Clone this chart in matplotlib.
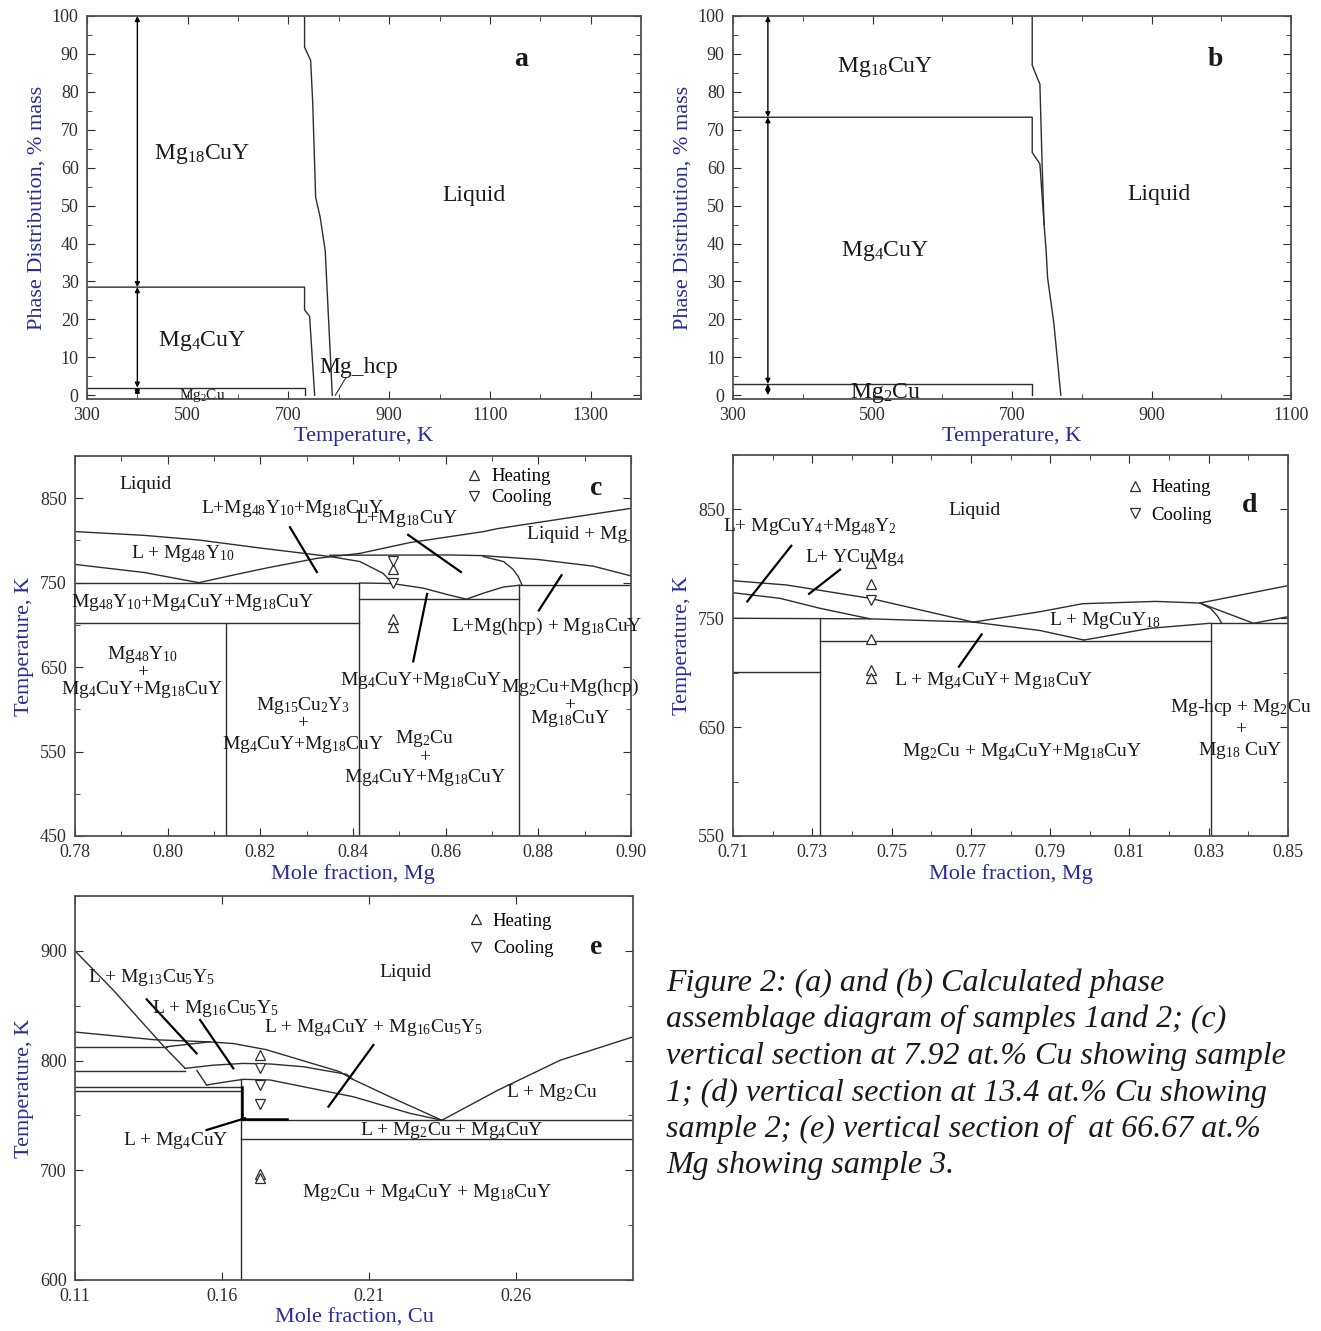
import numpy as np
import matplotlib.pyplot as plt
from matplotlib.lines import Line2D
from matplotlib.ticker import FixedLocator, FormatStrFormatter

plt.rcParams['font.family'] = ['Liberation Serif', 'DejaVu Serif']
plt.rcParams['mathtext.fontset'] = 'custom'
plt.rcParams['mathtext.rm'] = 'Liberation Serif'
plt.rcParams['mathtext.it'] = 'Liberation Serif:italic'
plt.rcParams['mathtext.bf'] = 'Liberation Serif:bold'

INK = '#2e2e2e'
BLUE = '#2a2a9c'

# ---------------- (a) phase distribution of sample 1 ----------------
a_xticks = [300, 500, 700, 900, 1100, 1300]
a_yticks = list(range(0, 101, 10))
a_levels = [0, 2, 28.5, 100]          # arrow marks at T = 400 K
a_arrow_t = 400
a_mg4_t = [300, 732, 732, 742, 752]
a_mg4_p = [28.5, 28.5, 22.5, 20.8, 0]
a_mg2_t = [300, 732, 732]
a_mg2_p = [2, 2, 0]
a_liq_t = [732, 732, 744, 748, 754, 763, 773, 787]
a_liq_p = [100, 91.8, 88.3, 77.7, 52.2, 46.9, 38.1, 0]

# ---------------- (b) phase distribution of sample 2 ----------------
b_xticks = [300, 500, 700, 900, 1100]
b_yticks = list(range(0, 101, 10))
b_levels = [0, 3, 73.3, 100]
b_arrow_t = 350
b_mg4_t = [300, 729, 729, 740, 746]
b_mg4_p = [73.3, 73.3, 64, 61, 45]
b_mg2_t = [300, 729, 729]
b_mg2_p = [3, 3, 0]
b_liq_t = [729, 729, 740, 743, 746, 749, 751, 760, 770]
b_liq_p = [100, 87, 82, 62, 45, 38, 31, 19, 0]

# ---------------- (c) section at 7.92 at.% Cu ----------------
c_xticks = [0.78, 0.80, 0.82, 0.84, 0.86, 0.88, 0.90]
c_yticks = [450, 550, 650, 750, 850]
c_curve_1 = [(0.78, 810.5), (0.795, 806), (0.8067, 800.5), (0.82, 791), (0.835, 781),
             (0.8415, 775), (0.8465, 761), (0.8484, 750)]
c_curve_2 = [(0.78, 771.6), (0.795, 762), (0.8067, 750), (0.815, 760), (0.8219, 768),
             (0.8322, 778.8), (0.8415, 784.7), (0.8523, 797.5), (0.8681, 810.4),
             (0.8712, 814), (0.90, 838)]
c_curve_3 = [(0.835, 782.5), (0.861, 782.8), (0.868, 782), (0.88, 777.4),
             (0.8918, 769.6), (0.90, 758)]
c_curve_4 = [(0.8681, 781), (0.8725, 775), (0.8745, 766), (0.8757, 757), (0.8765, 747)]
c_curve_5 = [(0.8415, 749.6), (0.8484, 749), (0.8551, 743.6), (0.861, 735), (0.8645, 730.5),
             (0.8681, 737.5), (0.8724, 744.8), (0.876, 747)]
c_hlines = [(0.78, 0.8414, 750), (0.78, 0.8414, 702), (0.8414, 0.8758, 730.7), (0.8758, 0.90, 747)]
c_vlines = [(0.8125, 450, 702), (0.8414, 450, 750), (0.8758, 450, 747)]
c_leaders = [((0.8264, 815.6), (0.8322, 762.6)), ((0.8519, 806.6), (0.8633, 762.6)),
             ((0.885, 758.8), (0.8801, 717)), ((0.856, 736.6), (0.853, 656.8))]
c_sample_x = 0.8486
c_heating = [766, 707, 697]
c_cooling = [776, 750]

# ---------------- (d) section at 13.4 at.% Cu ----------------
d_xticks = [0.71, 0.73, 0.75, 0.77, 0.79, 0.81, 0.83, 0.85]
d_yticks = [550, 650, 750, 850]
d_curve_1 = [(0.71, 784.5), (0.7235, 780.6), (0.7446, 768.3), (0.7706, 746.5),
             (0.7874, 738.8), (0.7985, 730)]
d_curve_2 = [(0.71, 773.5), (0.7219, 768.3), (0.7319, 759.2), (0.7446, 749.5)]
d_curve_3 = [(0.71, 750), (0.7446, 749.5), (0.7706, 746.5), (0.7874, 756), (0.7982, 763.4),
             (0.8166, 765.5), (0.8278, 764), (0.85, 780)]
d_curve_4 = [(0.7985, 730), (0.8026, 732.6), (0.8152, 740.8), (0.8303, 745.4)]
d_curve_5 = [(0.8278, 764), (0.8413, 745.4), (0.85, 751.5)]
d_curve_6 = [(0.8278, 764), (0.8305, 759), (0.8322, 752), (0.8333, 745.4)]
d_hlines = [(0.8306, 0.85, 745.4), (0.7319, 0.8306, 729), (0.71, 0.7319, 701)]
d_vlines = [(0.7319, 550, 750), (0.8306, 550, 746)]
d_leaders = [((0.7247, 816.6), (0.7136, 765.5)), ((0.737, 794.7), (0.7292, 772.5)),
             ((0.7727, 735.1), (0.767, 705.6))]
d_sample_x = 0.7448
d_heating = [801, 781.6, 730.9, 702.6, 695]
d_cooling = [766.4]

# ---------------- (e) section at 66.67 at.% Mg ----------------
e_xticks = [0.11, 0.16, 0.21, 0.26]
e_yticks = [600, 700, 800, 900]
e_curve_1 = [(0.11, 900), (0.123, 864.3), (0.1401, 813.3), (0.1475, 792.9)]
e_curve_2 = [(0.1515, 791), (0.1548, 777.7)]
e_curve_3 = [(0.11, 826), (0.137, 819), (0.156, 817), (0.164, 815.5), (0.175, 810),
             (0.19, 798), (0.2, 790), (0.2045, 783), (0.2186, 765.3), (0.2349, 745.6)]
e_curve_4 = [(0.1475, 792.9), (0.1571, 795.8), (0.1673, 797.4), (0.1764, 796.9),
             (0.1877, 794.4), (0.2025, 787.5), (0.2045, 783)]
e_curve_5 = [(0.1548, 777.7), (0.1617, 780.7), (0.1673, 782.9), (0.1764, 782.3),
             (0.1877, 776.2), (0.2048, 767), (0.2241, 751.9), (0.2349, 745.6)]
e_curve_6 = [(0.2349, 745.6), (0.254, 773), (0.2752, 800.3), (0.30, 821.6)]
e_curve_7 = [(0.1412, 812.6), (0.156, 817.1)]
e_hlines = [(0.11, 0.1412, 812.6), (0.11, 0.1475, 790.8), (0.11, 0.1665, 776.1),
            (0.11, 0.1665, 772.5), (0.1665, 0.30, 745.8), (0.1665, 0.30, 728.9)]
e_vlines = [(0.1665, 600, 782.9)]
e_leaders = [((0.1344, 855.8), (0.1514, 806.6)), ((0.1526, 837), (0.1639, 792.9)),
             ((0.2116, 814.2), (0.1963, 758)), ((0.1548, 736.7), (0.1679, 747.4))]
e_sample_x = 0.1731
e_heating = [804.9, 696.5, 693]
e_cooling = [793.6, 778.1, 760.8]

CAPTION = ("Figure 2: (a) and (b) Calculated phase\n"
           "assemblage diagram of samples 1and 2; (c)\n"
           "vertical section at 7.92 at.% Cu showing sample\n"
           "1; (d) vertical section at 13.4 at.% Cu showing\n"
           "sample 2; (e) vertical section of  at 66.67 at.%\n"
           "Mg showing sample 3.")


def style_axes(ax, xlim, ylim, xticks, yticks, xminor, yminor, xfmt, xlabel, ylabel, tsize=13):
    ax.set_xlim(*xlim)
    ax.set_ylim(*ylim)
    ax.xaxis.set_major_locator(FixedLocator(xticks))
    ax.yaxis.set_major_locator(FixedLocator(yticks))
    if xminor is not None:
        ax.xaxis.set_minor_locator(FixedLocator(xminor))
    if yminor is not None:
        ax.yaxis.set_minor_locator(FixedLocator(yminor))
    ax.xaxis.set_major_formatter(FormatStrFormatter(xfmt))
    ax.tick_params(which='both', direction='in', top=True, right=True, colors=INK,
                   labelsize=tsize, pad=6)
    ax.tick_params(which='major', length=6)
    ax.tick_params(which='minor', length=3.5)
    for sp in ax.spines.values():
        sp.set_color('#505050')
        sp.set_linewidth(1.3)
    ax.set_xlabel(xlabel, color=BLUE, fontsize=16, labelpad=2)
    ax.set_ylabel(ylabel, color=BLUE, fontsize=16, labelpad=4)


def curve(ax, pts, lw=1.0):
    xs, ys = zip(*pts)
    ax.plot(xs, ys, color=INK, lw=lw)


def lines(ax, hl, vl):
    for x0, x1, y in hl:
        ax.plot([x0, x1], [y, y], color=INK, lw=1.0)
    for x, y0, y1 in vl:
        ax.plot([x, x], [y0, y1], color=INK, lw=1.0)


def leaders(ax, ll):
    for (x0, y0), (x1, y1) in ll:
        ax.plot([x0, x1], [y0, y1], color='black', lw=1.6)


def arrows(ax, x, levels):
    for lo, hi in zip(levels[:-1], levels[1:]):
        ax.annotate('', xy=(x, hi), xytext=(x, lo),
                    arrowprops=dict(arrowstyle='<|-|>', color='black', lw=1.0,
                                    mutation_scale=7, shrinkA=0, shrinkB=0))


def samples(ax, x, heat, cool, bbox, rowsp):
    ax.plot([x] * len(heat), heat, ls='none', marker='^', ms=7, mfc='white', mec=INK, mew=0.9)
    ax.plot([x] * len(cool), cool, ls='none', marker='v', ms=7, mfc='white', mec=INK, mew=0.9)
    h1 = Line2D([], [], ls='none', marker='^', ms=7, mfc='white', mec=INK, mew=0.9)
    h2 = Line2D([], [], ls='none', marker='v', ms=7, mfc='white', mec=INK, mew=0.9)
    ax.legend([h1, h2], ['Heating', 'Cooling'], loc='upper left', bbox_to_anchor=bbox,
              frameon=False, fontsize=13.5, handlelength=0.8, handletextpad=0.5,
              labelspacing=rowsp, borderaxespad=0, borderpad=0)


def text(ax, x, y, s, size=14, **kw):
    ax.text(x, y, s, ha='center', va='center', fontsize=size, color='#1a1a1a', **kw)


fig = plt.figure(figsize=(13.21, 13.31), dpi=100)
W, H = 1321.0, 1331.0


def add_axes(left, top, right, bottom):
    return fig.add_axes([left / W, 1 - bottom / H, (right - left) / W, (bottom - top) / H])


# ---- (a)
ax = add_axes(87, 16, 641, 399)
style_axes(ax, (300, 1400), (-1, 100), a_xticks, a_yticks, list(range(300, 1401, 100)),
           list(range(0, 101, 5)), '%d', 'Temperature, K', 'Phase Distribution, % mass')
ax.plot(a_mg4_t, a_mg4_p, color=INK, lw=1.0)
ax.plot(a_mg2_t, a_mg2_p, color=INK, lw=1.0)
ax.plot(a_liq_t, a_liq_p, color=INK, lw=1.0)
ax.plot([793, 814], [0, 4.6], color=INK, lw=0.8)
arrows(ax, a_arrow_t, a_levels)
text(ax, 529, 63.6, 'Mg$_{18}$CuY', 17)
text(ax, 1068, 52.6, 'Liquid', 17)
text(ax, 529, 14.3, 'Mg$_{4}$CuY', 17)
text(ax, 839, 7.3, 'Mg_hcp', 17)
text(ax, 529, -0.2, 'Mg$_{2}$Cu', 11)
text(ax, 1162, 88.5, 'a', 20, fontweight='bold')

# ---- (b)
ax = add_axes(733, 16, 1291, 399)
style_axes(ax, (300, 1100), (-1, 100), b_xticks, b_yticks, list(range(300, 1101, 100)),
           list(range(0, 101, 5)), '%d', 'Temperature, K', 'Phase Distribution, % mass')
ax.plot(b_mg4_t, b_mg4_p, color=INK, lw=1.0)
ax.plot(b_mg2_t, b_mg2_p, color=INK, lw=1.0)
ax.plot(b_liq_t, b_liq_p, color=INK, lw=1.0)
arrows(ax, b_arrow_t, b_levels)
text(ax, 518, 86.6, 'Mg$_{18}$CuY', 17)
text(ax, 518, 38, 'Mg$_{4}$CuY', 17)
text(ax, 911, 53, 'Liquid', 17)
text(ax, 518, 0.6, 'Mg$_{2}$Cu', 17)
text(ax, 991, 88.6, 'b', 20, fontweight='bold')

# ---- (c)
ax = add_axes(75, 456, 631, 836)
style_axes(ax, (0.78, 0.90), (450, 900), c_xticks, c_yticks, list(np.arange(0.78, 0.905, 0.01)),
           list(range(450, 901, 50)), '%.2f', 'Mole fraction, Mg', 'Temperature, K')
for pts in [c_curve_1, c_curve_2, c_curve_3, c_curve_4, c_curve_5]:
    curve(ax, pts)
lines(ax, c_hlines, c_vlines)
leaders(ax, c_leaders)
samples(ax, c_sample_x, c_heating, c_cooling, (0.705, 0.968), 0.2)
text(ax, 0.7953, 866.8, 'Liquid')
text(ax, 0.827, 838.4, 'L+Mg$_{48}$Y$_{10}$+Mg$_{18}$CuY')
text(ax, 0.8514, 825.4, 'L+Mg$_{18}$CuY')
text(ax, 0.8884, 807.6, 'Liquid + Mg')
text(ax, 0.8033, 784, 'L + Mg$_{48}$Y$_{10}$')
text(ax, 0.8053, 727, 'Mg$_{48}$Y$_{10}$+Mg$_{4}$CuY+Mg$_{18}$CuY')
text(ax, 0.8819, 698.7, 'L+Mg(hcp) + Mg$_{18}$CuY')
text(ax, 0.7945, 665.5, 'Mg$_{48}$Y$_{10}$')
text(ax, 0.7945, 644, '+')
text(ax, 0.7945, 622.9, 'Mg$_{4}$CuY+Mg$_{18}$CuY')
text(ax, 0.8292, 605, 'Mg$_{15}$Cu$_{2}$Y$_{3}$')
text(ax, 0.8292, 582.6, '+')
text(ax, 0.8292, 557.8, 'Mg$_{4}$CuY+Mg$_{18}$CuY')
text(ax, 0.8547, 633.6, 'Mg$_{4}$CuY+Mg$_{18}$CuY')
text(ax, 0.8868, 626.5, 'Mg$_{2}$Cu+Mg(hcp)')
text(ax, 0.8868, 604, '+')
text(ax, 0.8868, 588.6, 'Mg$_{18}$CuY')
text(ax, 0.8555, 566, 'Mg$_{2}$Cu')
text(ax, 0.8555, 542.4, '+')
text(ax, 0.8555, 518.7, 'Mg$_{4}$CuY+Mg$_{18}$CuY')
text(ax, 0.8924, 862, 'c', 20, fontweight='bold')

# ---- (d)
ax = add_axes(733, 455, 1288, 836)
style_axes(ax, (0.71, 0.85), (550, 900), d_xticks, d_yticks, list(np.arange(0.71, 0.855, 0.01)),
           list(range(550, 901, 50)), '%.2f', 'Mole fraction, Mg', 'Temperature, K')
for pts in [d_curve_1, d_curve_2, d_curve_3, d_curve_4, d_curve_5, d_curve_6]:
    curve(ax, pts)
lines(ax, d_hlines, d_vlines)
leaders(ax, d_leaders)
samples(ax, d_sample_x, d_heating, d_cooling, (0.71, 0.937), 0.55)
text(ax, 0.7708, 848.6, 'Liquid')
text(ax, 0.7294, 833.9, 'L+ MgCuY$_{4}$+Mg$_{48}$Y$_{2}$')
text(ax, 0.7408, 805.4, 'L+ YCuMg$_{4}$')
text(ax, 0.8038, 748.4, 'L + MgCuY$_{18}$')
text(ax, 0.7758, 693.3, 'L + Mg$_{4}$CuY+ Mg$_{18}$CuY')
text(ax, 0.838, 668.5, 'Mg-hcp + Mg$_{2}$Cu')
text(ax, 0.838, 647.4, '+')
text(ax, 0.838, 629, 'Mg$_{18}$ CuY')
text(ax, 0.7829, 627.2, 'Mg$_{2}$Cu + Mg$_{4}$CuY+Mg$_{18}$CuY')
text(ax, 0.8404, 854, 'd', 20, fontweight='bold')

# ---- (e)
ax = add_axes(75, 896, 633, 1280)
style_axes(ax, (0.11, 0.30), (600, 950), e_xticks, e_yticks, None,
           list(range(600, 951, 50)), '%.2f', 'Mole fraction, Cu', 'Temperature, K')
for pts in [e_curve_1, e_curve_2, e_curve_3, e_curve_4, e_curve_5, e_curve_6, e_curve_7]:
    curve(ax, pts)
lines(ax, e_hlines, e_vlines)
ax.plot([0.1668, 0.1668, 0.1821], [776, 746.5, 746.5], color='black', lw=1.8)
leaders(ax, e_leaders)
samples(ax, e_sample_x, e_heating, e_cooling, (0.705, 0.957), 0.55)
text(ax, 0.2227, 880.7, 'Liquid')
text(ax, 0.1359, 875.3, 'L + Mg$_{13}$Cu$_{5}$Y$_{5}$')
text(ax, 0.1577, 847.9, 'L + Mg$_{16}$Cu$_{5}$Y$_{5}$')
text(ax, 0.2115, 829.7, 'L + Mg$_{4}$CuY + Mg$_{16}$Cu$_{5}$Y$_{5}$')
text(ax, 0.2724, 771.3, 'L + Mg$_{2}$Cu')
text(ax, 0.2384, 736.7, 'L + Mg$_{2}$Cu + Mg$_{4}$CuY')
text(ax, 0.1444, 727.6, 'L + Mg$_{4}$CuY')
text(ax, 0.2299, 680.2, 'Mg$_{2}$Cu + Mg$_{4}$CuY + Mg$_{18}$CuY')
text(ax, 0.2874, 903.5, 'e', 20, fontweight='bold')

fig.text(666 / W, 1 - 968 / H, CAPTION, ha='left', va='top', fontsize=23,
         fontstyle='italic', linespacing=1.33, color='#1a1a1a')

fig.savefig('out.png', dpi=100)
